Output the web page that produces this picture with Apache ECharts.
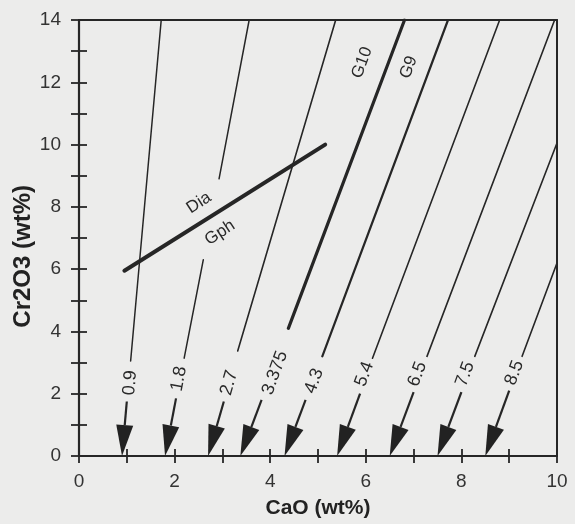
<!DOCTYPE html>
<html>
<head>
<meta charset="utf-8">
<script src="https://cdn.jsdelivr.net/npm/echarts@6/dist/echarts.min.js"></script>
<style>
html,body{margin:0;padding:0;background:#ececeb;}
#chart{width:575px;height:524px;}
</style>
</head>
<body>
<div id="chart"></div>
<script>
// ---- data ----
const xTicks = [0, 2, 4, 6, 8, 10];
const yTicks = [0, 2, 4, 6, 8, 10, 12, 14];
const xTitle = 'CaO (wt%)';
const yTitle = 'Cr2O3 (wt%)';
const interceptLabels = ['0.9', '1.8', '2.7', '3.375', '4.3', '5.4', '6.5', '7.5', '8.5'];
// arrow: [tipX, tipY, tailX, tailY]
const arrows = [
  [0.9, 0, 1.0, 1.75],
  [1.8, 0, 2.03, 1.85],
  [2.7, 0, 3.03, 1.75],
  [3.375, 0, 3.82, 1.8],
  [4.3, 0, 4.74, 1.8],
  [5.4, 0, 5.88, 2.0],
  [6.5, 0, 7.0, 2.05],
  [7.5, 0, 8.0, 2.05],
  [8.5, 0, 9.0, 2.1]
];
// label centres for the intercept labels
const interceptLabelPos = [
  [1.07, 2.35], [2.09, 2.48], [3.14, 2.35], [4.1, 2.67], [4.92, 2.41],
  [5.97, 2.63], [7.08, 2.63], [8.08, 2.63], [9.11, 2.67]
];
// line segments above the labels
const isoSegments = [
  [[1.08, 3.05], [1.72, 14]],
  [[2.2, 3.14], [2.6, 6.3]],
  [[2.93, 8.9], [3.56, 14]],
  [[3.32, 3.37], [5.37, 14]],
  [[4.38, 4.1], [6.81, 14]],
  [[5.09, 3.2], [7.72, 14]],
  [[6.14, 3.14], [8.8, 14]],
  [[7.28, 3.2], [9.95, 14]],
  [[8.28, 3.2], [10, 10.05]],
  [[9.27, 3.2], [10, 6.2]]
];
const diaGphLine = [[0.95, 5.95], [5.15, 10.0]];
const fieldLabels = ['G10', 'G9', 'Dia', 'Gph'];
const fieldLabelPos = [[5.92, 12.63], [6.9, 12.48], [2.51, 8.13], [2.95, 7.17]];

// ---- styling ----
const ink = '#262626';
const segWidths = [1.5, 1.5, 1.5, 1.6, 3.2, 2.2, 1.6, 1.6, 1.6, 1.6];
const interceptAngles = [85, 79, 74, 70, 70, 70, 70, 70, 70];
const fieldAngles = [70, 70, 33, 33];
const FONT = 'Liberation Sans, Arial, sans-serif';

const chart = echarts.init(document.getElementById('chart'), null, {renderer: 'canvas'});

const series = [];
isoSegments.forEach((seg, i) => {
  series.push({
    type: 'line', data: seg, showSymbol: false, symbol: 'none', silent: true,
    lineStyle: {color: ink, width: segWidths[i], cap: 'round'}, z: 3
  });
});
series.push({
  type: 'line', data: diaGphLine, showSymbol: false, symbol: 'none', silent: true,
  lineStyle: {color: ink, width: 4, cap: 'round'}, z: 3
});
series.push({
  type: 'custom', silent: true, z: 4,
  data: arrows,
  renderItem: function (params, api) {
    const tip = api.coord([api.value(0), api.value(1)]);
    const tail = api.coord([api.value(2), api.value(3)]);
    const dx = tip[0] - tail[0], dy = tip[1] - tail[1];
    const L = Math.sqrt(dx * dx + dy * dy);
    const ux = dx / L, uy = dy / L;
    const nx = -uy, ny = ux;
    const headLen = 31, half = 8.5;
    const bx = tip[0] - ux * headLen, by = tip[1] - uy * headLen;
    return {
      type: 'group',
      children: [
        {type: 'line', shape: {x1: tail[0], y1: tail[1], x2: bx, y2: by},
         style: {stroke: ink, lineWidth: 2.2}},
        {type: 'polygon', shape: {points: [[tip[0], tip[1]], [bx + nx * half, by + ny * half], [bx - nx * half, by - ny * half]]},
         style: {fill: '#222'}}
      ]
    };
  }
});
series.push({
  type: 'custom', silent: true, z: 5,
  data: interceptLabelPos.map((p, i) => [p[0], p[1], i]),
  renderItem: function (params, api) {
    const i = api.value(2);
    const c = api.coord([api.value(0), api.value(1)]);
    return {
      type: 'text', x: c[0], y: c[1], rotation: interceptAngles[i] * Math.PI / 180,
      style: {text: interceptLabels[i], fill: '#2a2a2a', font: '18px ' + FONT,
              textAlign: 'center', textVerticalAlign: 'middle'}
    };
  }
});
series.push({
  type: 'custom', silent: true, z: 5,
  data: fieldLabelPos.map((p, i) => [p[0], p[1], i]),
  renderItem: function (params, api) {
    const i = api.value(2);
    const c = api.coord([api.value(0), api.value(1)]);
    return {
      type: 'text', x: c[0], y: c[1], rotation: fieldAngles[i] * Math.PI / 180,
      style: {text: fieldLabels[i], fill: '#2a2a2a', font: '17px ' + FONT,
              textAlign: 'center', textVerticalAlign: 'middle'}
    };
  }
});

const axisBase = {type: 'value', min: 0, splitLine: {show: false}};
const xMax = xTicks[xTicks.length - 1];
const yMax = yTicks[yTicks.length - 1];

const option = {
  backgroundColor: '#ececeb',
  animation: false,
  grid: {left: 79, right: 18, top: 20, bottom: 63, containLabel: false},
  graphic: [{
    type: 'text', left: 11, top: 185, rotation: Math.PI / 2,
    style: {text: yTitle, fill: '#222', font: 'bold 24px ' + FONT}
  }],
  xAxis: [
    Object.assign({}, axisBase, {
      max: xMax, interval: 1, position: 'bottom',
      axisLine: {show: true, onZero: false, lineStyle: {color: ink, width: 2.2}},
      axisTick: {show: true, inside: false, length: 7, lineStyle: {color: ink, width: 1.8}},
      axisLabel: {show: true, margin: 16, color: '#333', fontSize: 19, fontFamily: FONT,
        formatter: v => (xTicks.indexOf(v) >= 0 ? String(v) : '')},
      name: xTitle, nameLocation: 'middle', nameGap: 42,
      nameTextStyle: {color: '#222', fontSize: 21, fontWeight: 'bold', fontFamily: FONT}
    }),
    Object.assign({}, axisBase, {
      max: xMax, interval: 1, position: 'bottom',
      axisLine: {show: false, onZero: false},
      axisTick: {show: true, inside: true, length: 7, lineStyle: {color: ink, width: 1.8}},
      axisLabel: {show: false}
    }),
    Object.assign({}, axisBase, {
      max: xMax, position: 'top',
      axisLine: {show: true, onZero: false, lineStyle: {color: ink, width: 2.2}},
      axisTick: {show: false}, axisLabel: {show: false}
    })
  ],
  yAxis: [
    Object.assign({}, axisBase, {
      max: yMax, interval: 1, position: 'left',
      axisLine: {show: true, onZero: false, lineStyle: {color: ink, width: 2.2}},
      axisTick: {show: true, inside: false, length: 8, lineStyle: {color: ink, width: 1.8}},
      axisLabel: {show: true, margin: 18, color: '#333', fontSize: 19, fontFamily: FONT,
        formatter: v => (yTicks.indexOf(v) >= 0 ? String(v) : '')}
    }),
    Object.assign({}, axisBase, {
      max: yMax, interval: 1, position: 'left',
      axisLine: {show: false, onZero: false},
      axisTick: {show: true, inside: true, length: 8, lineStyle: {color: ink, width: 1.8}},
      axisLabel: {show: false}
    }),
    Object.assign({}, axisBase, {
      max: yMax, position: 'right',
      axisLine: {show: true, onZero: false, lineStyle: {color: ink, width: 2}},
      axisTick: {show: false}, axisLabel: {show: false}
    })
  ],
  series: series
};
chart.setOption(option);
</script>
</body>
</html>
